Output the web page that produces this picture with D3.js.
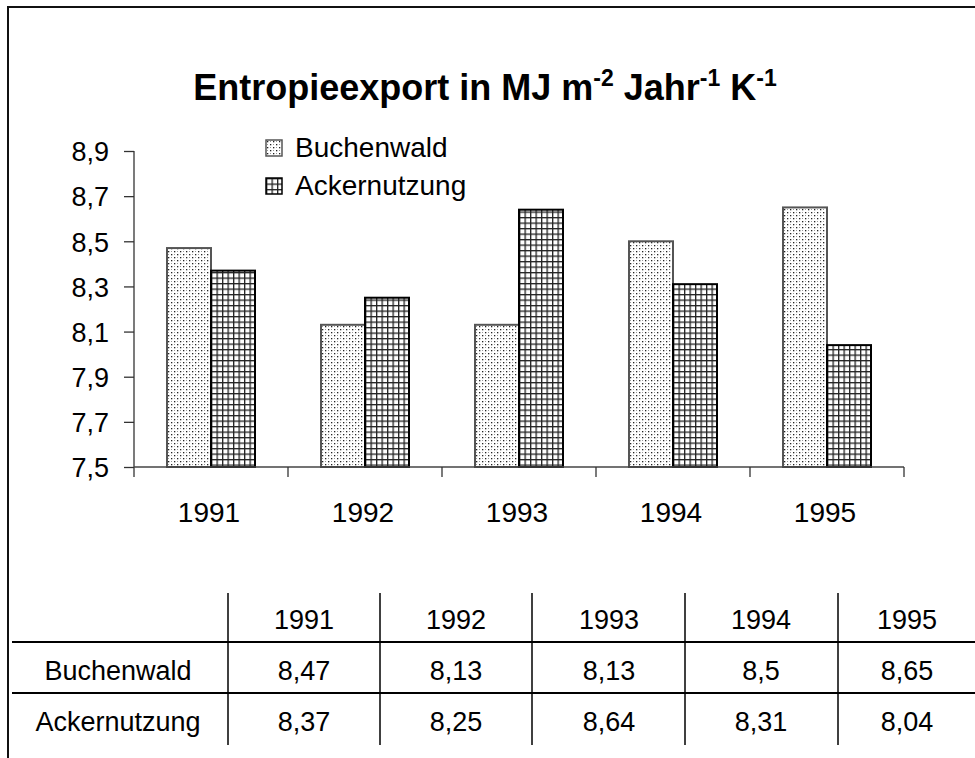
<!DOCTYPE html>
<html>
<head>
<meta charset="utf-8">
<script src="https://cdn.jsdelivr.net/npm/d3@7"></script>
<style>
  body { margin: 0; background: #fff; }
  svg text { font-family: "Liberation Sans", Arial, Helvetica, sans-serif; fill: #000; }
</style>
</head>
<body>
<div id="chart"></div>
<script>
const WIDTH = 975;
const HEIGHT = 758;

const years = ["1991", "1992", "1993", "1994", "1995"];
const seriesNames = ["Buchenwald", "Ackernutzung"];
const buchenwald = [8.47, 8.13, 8.13, 8.5, 8.65];
const ackernutzung = [8.37, 8.25, 8.64, 8.31, 8.04];
const yTicks = [7.5, 7.7, 7.9, 8.1, 8.3, 8.5, 8.7, 8.9];
const yDomain = [7.5, 8.9];

let margin = {top: 151, left: 134, right: 71, bottom: 291};
let plotW = WIDTH - margin.left - margin.right;
let plotH = HEIGHT - margin.top - margin.bottom;

let oneDec = d3.format(".1f");
let fmtTick = function(d) { return oneDec(d).replace(".", ","); };
let fmtVal = function(d) { return String(d).replace(".", ","); };

let svg = d3.select("#chart").append("svg")
    .attr("width", WIDTH)
    .attr("height", HEIGHT);

// patterns
let defs = svg.append("defs");
let dots = defs.append("pattern")
    .attr("id", "dots")
    .attr("patternUnits", "userSpaceOnUse")
    .attr("width", 6).attr("height", 6);
dots.append("rect").attr("width", 6).attr("height", 6).attr("fill", "#fff");
dots.append("rect").attr("x", 1).attr("y", 1).attr("width", 1.3).attr("height", 1.3).attr("fill", "#222");
dots.append("rect").attr("x", 4).attr("y", 4).attr("width", 1.3).attr("height", 1.3).attr("fill", "#222");
dots.append("rect").attr("x", 4).attr("y", 1).attr("width", 1).attr("height", 1).attr("fill", "#999");
dots.append("rect").attr("x", 1).attr("y", 4).attr("width", 1).attr("height", 1).attr("fill", "#999");

let grid = defs.append("pattern")
    .attr("id", "grid")
    .attr("patternUnits", "userSpaceOnUse")
    .attr("width", 5.5).attr("height", 5.5);
grid.append("rect").attr("width", 5.5).attr("height", 5.5).attr("fill", "#fff");
grid.append("rect").attr("width", 5.5).attr("height", 1.3).attr("fill", "#222");
grid.append("rect").attr("width", 1.3).attr("height", 5.5).attr("fill", "#222");

let fills = {"Buchenwald": "url(#dots)", "Ackernutzung": "url(#grid)"};
let strokes = {"Buchenwald": "#555", "Ackernutzung": "#000"};

// frame (left + top only)
svg.append("path")
    .attr("d", "M8," + HEIGHT + "V7H" + WIDTH)
    .attr("fill", "none")
    .attr("stroke", "#111")
    .attr("stroke-width", 2);

// title
let title = svg.append("text")
    .attr("x", 485).attr("y", 100)
    .attr("text-anchor", "middle")
    .style("font-size", "36px")
    .style("font-weight", "bold");
title.append("tspan").text("Entropieexport in MJ m");
title.append("tspan").attr("dy", -14).style("font-size", "23px").text("-2");
title.append("tspan").attr("dy", 14).text(" Jahr");
title.append("tspan").attr("dy", -14).style("font-size", "23px").text("-1");
title.append("tspan").attr("dy", 14).text(" K");
title.append("tspan").attr("dy", -14).style("font-size", "23px").text("-1");

// scales
let x0 = d3.scaleBand().domain(years).range([0, plotW]).padding(0);
let x1 = d3.scaleBand().domain(seriesNames).range([0, x0.bandwidth()]).paddingInner(0).paddingOuter(0.75);
let yScale = d3.scaleLinear().domain(yDomain).range([plotH, 0]);

let g = svg.append("g")
    .attr("transform", "translate(" + margin.left + "," + margin.top + ")");

// bars
let rows = years.map(function(yr, i) {
  return {year: yr, values: [
    {key: "Buchenwald", value: buchenwald[i]},
    {key: "Ackernutzung", value: ackernutzung[i]}
  ]};
});
let groups = g.selectAll("g.year").data(rows).enter()
  .append("g")
    .attr("class", "year")
    .attr("transform", function(d) { return "translate(" + x0(d.year) + ",0)"; });
groups.selectAll("rect").data(function(d) { return d.values; }).enter()
  .append("rect")
    .attr("x", function(d) { return x1(d.key); })
    .attr("width", x1.bandwidth())
    .attr("y", function(d) { return yScale(d.value); })
    .attr("height", function(d) { return plotH - yScale(d.value); })
    .attr("fill", function(d) { return fills[d.key]; })
    .attr("stroke", function(d) { return strokes[d.key]; })
    .attr("stroke-width", 2);

// y axis
let yAxis = d3.axisLeft(yScale).tickValues(yTicks).tickFormat(fmtTick).tickSize(10).tickSizeOuter(0).tickPadding(15);
let yG = g.append("g").attr("class", "y axis").call(yAxis);
yG.select(".domain").remove();
yG.selectAll("line").attr("stroke", "#333").attr("stroke-width", 1.3);
yG.selectAll("text").style("font-size", "27px").attr("dy", "0.36em");
g.append("line")
    .attr("x1", 0).attr("x2", 0)
    .attr("y1", 0).attr("y2", plotH + 10)
    .attr("stroke", "#333").attr("stroke-width", 1.3);

// x axis
g.append("line")
    .attr("x1", 0).attr("x2", plotW)
    .attr("y1", plotH).attr("y2", plotH)
    .attr("stroke", "#444").attr("stroke-width", 1.3);
g.append("g").selectAll("line").data(years.slice(1).concat(["end"])).enter()
  .append("line")
    .attr("x1", function(d) { return d === "end" ? plotW : x0(d); })
    .attr("x2", function(d) { return d === "end" ? plotW : x0(d); })
    .attr("y1", plotH).attr("y2", plotH + 10)
    .attr("stroke", "#333").attr("stroke-width", 1.3);
g.append("g").selectAll("text").data(years).enter()
  .append("text")
    .attr("x", function(d) { return x0(d) + x0.bandwidth() / 2 - 2; })
    .attr("y", plotH + 55)
    .attr("text-anchor", "middle")
    .style("font-size", "28px")
    .text(function(d) { return d; });

// legend
let legend = svg.append("g").attr("transform", "translate(266,140)");
let li = legend.selectAll("g").data(seriesNames).enter()
  .append("g")
    .attr("transform", function(d, i) { return "translate(0," + (i * 38) + ")"; });
li.append("rect")
    .attr("width", 16).attr("height", 16)
    .attr("fill", function(d) { return fills[d]; })
    .attr("stroke", function(d) { return strokes[d]; })
    .attr("stroke-width", 1.5);
li.append("text")
    .attr("x", 29).attr("y", 17)
    .style("font-size", "28px")
    .text(function(d) { return d; });

// data table
let colLines = [228, 380, 532, 685, 838];
let colCenters = [304, 456, 609, 761, 907];
let tableTop = 593, tableBottom = 745;
let rowLines = [642, 693];
let tg = svg.append("g").attr("class", "table");
tg.selectAll("line.v").data(colLines).enter()
  .append("line").attr("class", "v")
    .attr("x1", function(d) { return d; }).attr("x2", function(d) { return d; })
    .attr("y1", tableTop).attr("y2", tableBottom)
    .attr("stroke", "#000").attr("stroke-width", 1.5);
tg.selectAll("line.h").data(rowLines).enter()
  .append("line").attr("class", "h")
    .attr("x1", 12).attr("x2", WIDTH)
    .attr("y1", function(d) { return d; }).attr("y2", function(d) { return d; })
    .attr("stroke", "#000").attr("stroke-width", 2);
tg.selectAll("text.head").data(years).enter()
  .append("text").attr("class", "head")
    .attr("x", function(d, i) { return colCenters[i]; })
    .attr("y", 629)
    .attr("text-anchor", "middle")
    .style("font-size", "27px")
    .text(function(d) { return d; });
let tableRows = [
  {name: "Buchenwald", values: buchenwald, y: 680},
  {name: "Ackernutzung", values: ackernutzung, y: 731}
];
tableRows.forEach(function(r) {
  tg.append("text")
    .attr("x", 118).attr("y", r.y)
    .attr("text-anchor", "middle")
    .style("font-size", "27px")
    .text(r.name);
  tg.selectAll("text.v" + r.name).data(r.values).enter()
    .append("text")
      .attr("x", function(d, i) { return colCenters[i]; })
      .attr("y", r.y)
      .attr("text-anchor", "middle")
      .style("font-size", "27px")
      .text(fmtVal);
});
</script>
</body>
</html>
